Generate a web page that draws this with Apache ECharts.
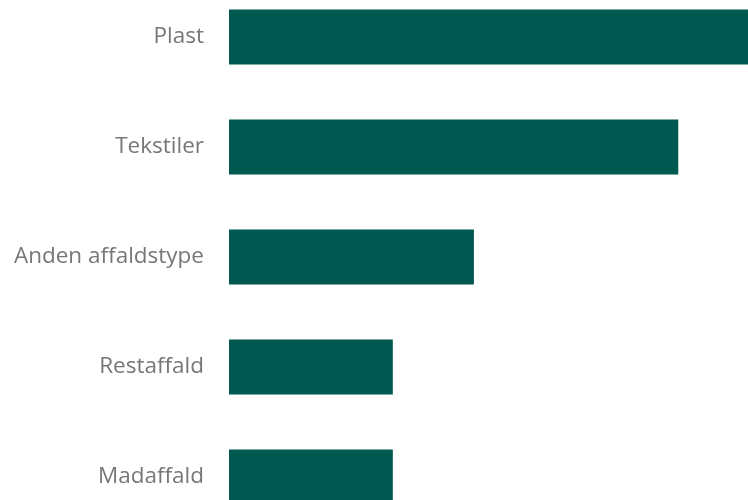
<!DOCTYPE html>
<html>
<head>
<meta charset="utf-8">
<script src="https://cdn.jsdelivr.net/npm/echarts@6/dist/echarts.min.js"></script>
<style>
  html, body { margin: 0; padding: 0; background: #ffffff; }
  #chart { width: 748px; height: 500px; }
</style>
</head>
<body>
<div id="chart"></div>
<script>
// Waste types, top to bottom
const categories = ['Plast', 'Tekstiler', 'Anden affaldstype', 'Restaffald', 'Madaffald'];
// Share per waste type (%)
const values = [32, 27.7, 15.1, 10.1, 10.1];

const chart = echarts.init(document.getElementById('chart'), null, { renderer: 'canvas' });

chart.setOption({
  animation: false,
  grid: {
    left: 229, right: 0, top: -18, height: 550,
    containLabel: false,
    outerBoundsMode: 'none'
  },
  xAxis: {
    type: 'value',
    min: 0,
    max: 32,
    show: false
  },
  yAxis: {
    type: 'category',
    inverse: true,
    data: categories,
    axisLine: { show: false },
    axisTick: { show: false },
    splitLine: { show: false },
    axisLabel: {
      margin: 25,
      color: '#777777',
      fontSize: 22.5,
      padding: [3, 0, 0, 0],
      fontFamily: '"Open Sans", "Noto Sans", sans-serif'
    }
  },
  series: [{
    type: 'bar',
    data: values,
    barCategoryGap: '50%',
    itemStyle: { color: '#005850' }
  }]
});
</script>
</body>
</html>
